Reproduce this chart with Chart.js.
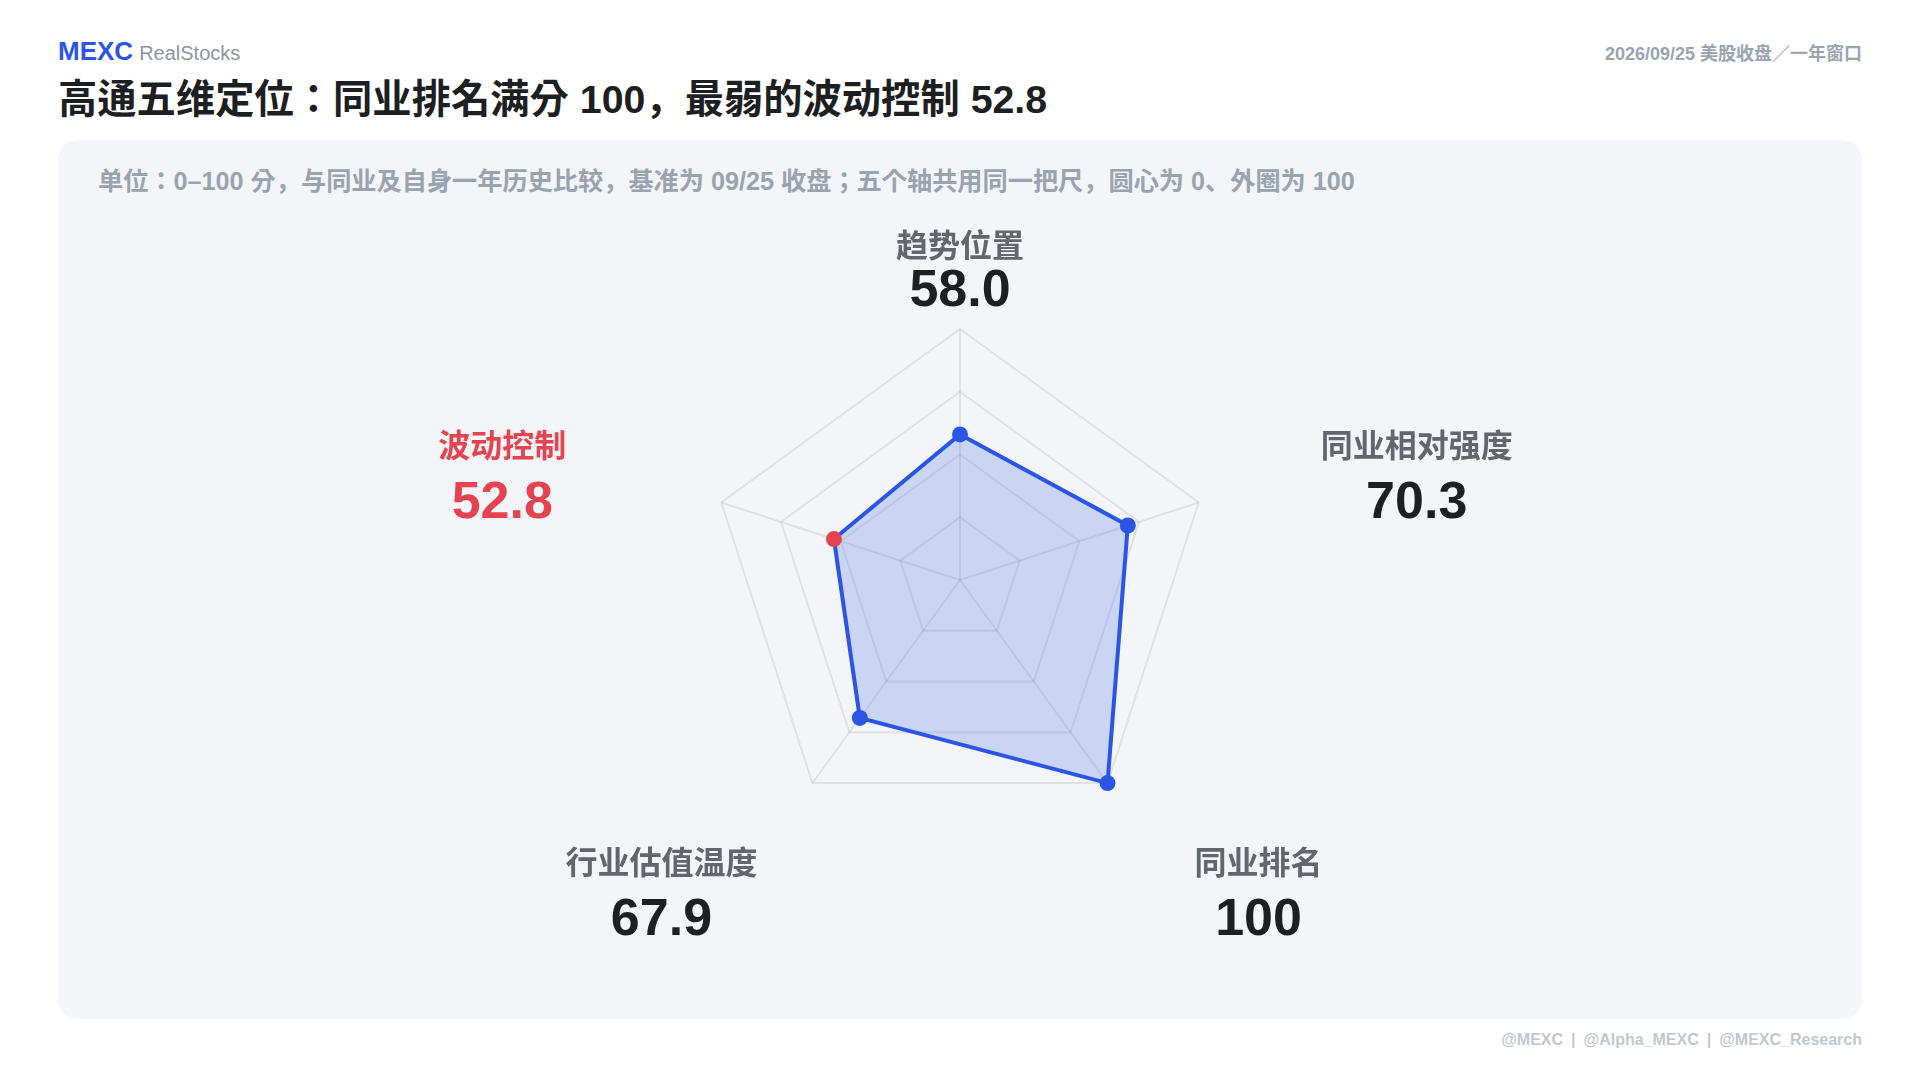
<!DOCTYPE html>
<html>
<head>
<meta charset="utf-8">
<title>高通五维定位</title>
<script src="https://cdn.jsdelivr.net/npm/chart.js@4.4.1/dist/chart.umd.min.js"></script>
<style>
  html, body { margin: 0; padding: 0; background: #fff; }
  body {
    width: 1920px; height: 1080px; position: relative; overflow: hidden;
    font-family: "Liberation Sans", Arial, "Noto Sans CJK KR", sans-serif;
  }
  .brand { position: absolute; left: 58px; top: 38px; line-height: 26px; white-space: nowrap; }
  .brand b { color: #2a55e6; font-size: 26px; font-weight: bold; }
  .brand span { color: #8d95a3; font-size: 20px; margin-left: 6px; }
  .title { position: absolute; left: 58px; top: 80px; font-size: 39.3px; line-height: 39px; font-weight: bold; color: #1d1f23; white-space: nowrap; }
  .date { position: absolute; right: 58px; top: 45px; font-size: 18px; line-height: 18px; font-weight: bold; color: #9ba3b1; white-space: nowrap; }
  .panel { position: absolute; left: 58px; top: 140px; width: 1804px; height: 879px; background: #f3f5f8; border-radius: 20px; }
  .note { position: absolute; left: 98px; top: 169px; font-size: 25.2px; line-height: 25px; font-weight: bold; color: #9aa3b0; white-space: nowrap; }
  .footer { position: absolute; right: 58px; top: 1032px; font-size: 16px; line-height: 16px; font-weight: bold; color: #c3c8d0; white-space: nowrap; }
  .footer i { font-style: normal; margin: 0 8px; }
  .wrap { position: absolute; left: 0; top: 0; width: 1920px; height: 1080px; }
</style>
</head>
<body>
<div class="brand"><b>MEXC</b><span>RealStocks</span></div>
<div class="date">2026/09/25 美股收盘／一年窗口</div>
<div class="title">高通五维定位：同业排名满分 100，最弱的波动控制 52.8</div>
<div class="panel"></div>
<div class="note">单位：0–100 分，与同业及自身一年历史比较，基准为 09/25 收盘；五个轴共用同一把尺，圆心为 0、外圈为 100</div>
<div class="footer">@MEXC<i>|</i>@Alpha_MEXC<i>|</i>@MEXC_Research</div>
<div class="wrap"><canvas id="radarChart"></canvas></div>

<script>
// five dimensions, scored 0-100
const dimensions = ["趋势位置", "同业相对强度", "同业排名", "行业估值温度", "波动控制"];
const scores = [58.0, 70.3, 100, 67.9, 52.8];
const scoreLabels = ["58.0", "70.3", "100", "67.9", "52.8"];
const weakestIndex = 4;

const FONT = '"Liberation Sans", Arial, "Noto Sans CJK SC", sans-serif';
const BLUE = "#2a55e6";
const RED = "#e5434f";

// caption position relative to the outer vertex of each axis: [dx, dy of name, gap to value baseline]
const labelShift = [
    [0, -81, 58],
    [218, -54, 70],
    [151, 82, 70],
    [-151, 82, 70],
    [-219, -54, 70]
];

const axisLabels = {
    id: "axisLabels",
    afterDatasetsDraw(chart) {
        const scale = chart.scales.r;
        const ctx = chart.ctx;
        ctx.save();
        ctx.textAlign = "center";
        dimensions.forEach((name, i) => {
            const p = scale.getPointPosition(i, scale.drawingArea);
            const x = p.x + labelShift[i][0];
            const y = p.y + labelShift[i][1];
            const weak = i === weakestIndex;

            ctx.font = "600 32px " + FONT;
            ctx.fillStyle = weak ? RED : "#62666d";
            ctx.textBaseline = "middle";
            ctx.fillText(name, x, y);

            ctx.font = "bold 52px " + FONT;
            ctx.fillStyle = weak ? RED : "#1d1f23";
            ctx.textBaseline = "alphabetic";
            ctx.fillText(scoreLabels[i], x, y + labelShift[i][2]);
        });
        ctx.restore();
    }
};

const pointColors = scores.map((v, i) => i === weakestIndex ? RED : BLUE);

new Chart(document.getElementById("radarChart"), {
    type: "radar",
    data: {
        labels: dimensions,
        datasets: [{
            data: scores,
            borderColor: BLUE,
            backgroundColor: "rgba(42, 85, 230, 0.2)",
            borderWidth: 4,
            pointBackgroundColor: pointColors,
            pointBorderColor: pointColors,
            pointBorderWidth: 0,
            pointRadius: 8,
            fill: true
        }]
    },
    options: {
        responsive: true,
        maintainAspectRatio: false,
        animation: false,
        layout: {
            padding: { top: 329, bottom: 249, left: 600, right: 600 }
        },
        plugins: {
            legend: { display: false },
            tooltip: { enabled: false }
        },
        scales: {
            r: {
                min: 0,
                max: 100,
                ticks: { stepSize: 25, display: false },
                grid: { color: "rgba(0, 0, 0, 0.08)", lineWidth: 2 },
                angleLines: { color: "rgba(0, 0, 0, 0.08)", lineWidth: 2 },
                pointLabels: { display: false }
            }
        }
    },
    plugins: [axisLabels]
});
</script>
</body>
</html>
